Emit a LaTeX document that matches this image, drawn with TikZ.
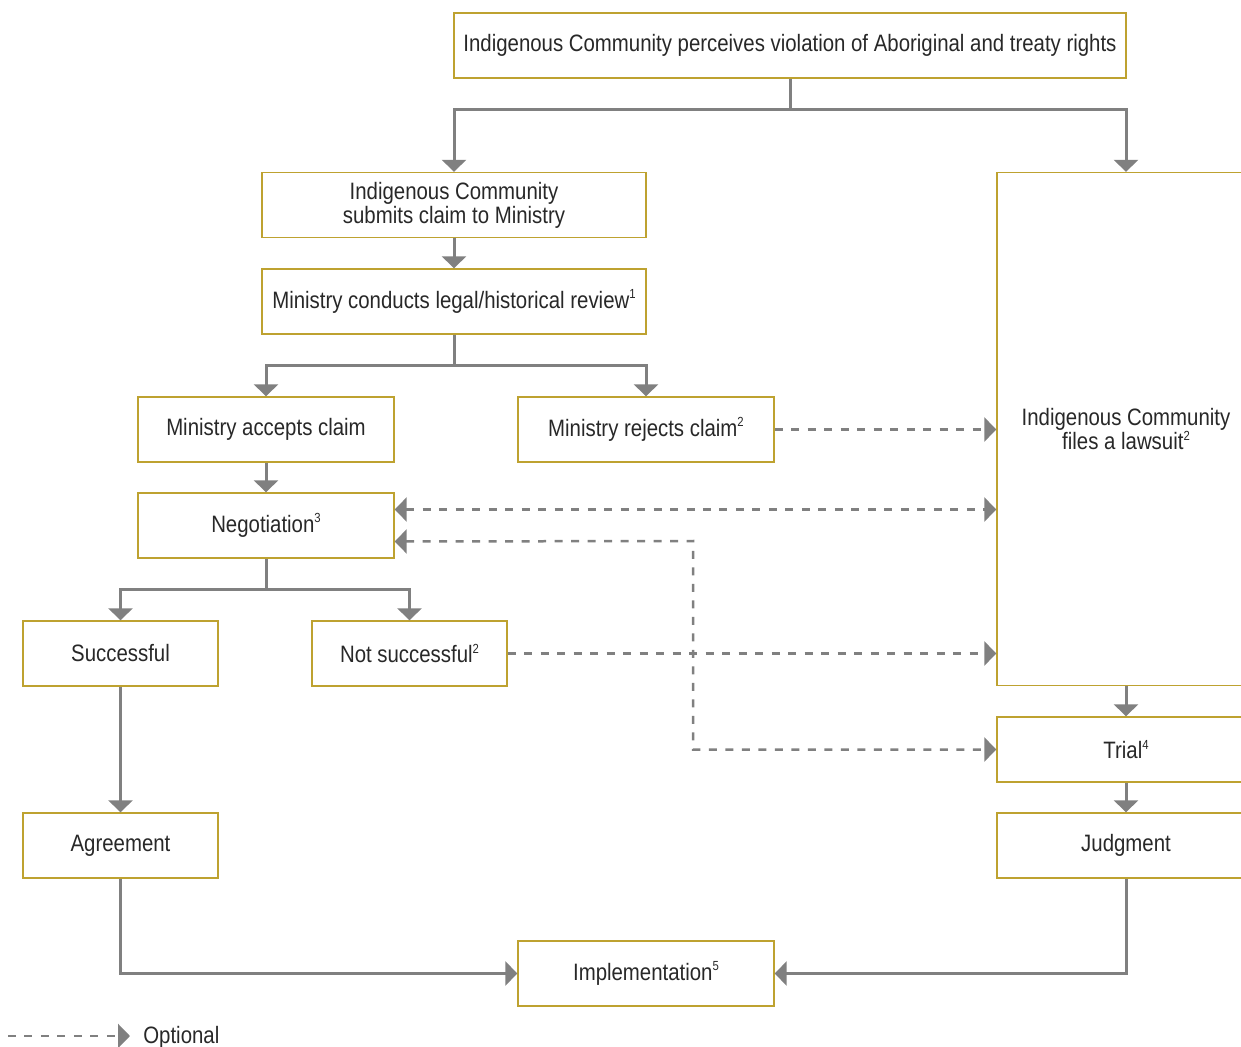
\documentclass[tikz,border=0pt]{standalone}
\usepackage{fontspec}
\setmainfont{Liberation Sans}[FakeStretch=0.86]
\usetikzlibrary{arrows.meta,positioning}
\definecolor{boxgold}{RGB}{190,162,48}
\definecolor{linegray}{RGB}{128,128,128}
\definecolor{txtgray}{RGB}{40,40,40}
\newcommand{\fnmark}[1]{\raisebox{0.75ex}{\fontsize{7.5}{8}\selectfont #1}}

\begin{document}
\begin{tikzpicture}[x=0.02cm,y=-0.02cm,
  >={Triangle[width=0.48cm,length=0.24cm]},
  box/.style={draw=boxgold,line width=0.8pt,fill=white,text=txtgray,align=center,
    minimum height=1.3cm,inner sep=0pt,font=\fontsize{13.5}{13.8}\selectfont},
  flow/.style={draw=linegray,line width=0.06cm,->},
  opt/.style={draw=linegray,line width=0.05cm,dash pattern=on 0.16cm off 0.17cm}]
  \useasboundingbox (0,0) rectangle (1241,1047);
  % boxes
  \node[box,minimum width=13.44cm] (top) at (790,45.5)
    {Indigenous Community perceives violation of Aboriginal and treaty rights};
  \node[box,minimum width=7.68cm] (submit) at (454,205)
    {Indigenous Community\\submits claim to Ministry};
  \node[box,minimum width=7.68cm] (review) at (454,301.5)
    {Ministry conducts legal/historical review\fnmark{1}};
  \node[box,minimum width=5.12cm] (accept) at (266,429.5) {Ministry accepts claim};
  \node[box,minimum width=5.12cm] (reject) at (646,429.5)
    {Ministry rejects claim\fnmark{2}};
  \node[box,minimum width=5.12cm] (negot) at (266,525.5) {Negotiation\fnmark{3}};
  \node[box,minimum width=3.9cm] (success) at (120.5,653.5) {Successful};
  \node[box,minimum width=3.9cm] (notsucc) at (409.5,653.5)
    {Not successful\fnmark{2}};
  \node[box,minimum width=3.9cm] (agree) at (120.5,845.5) {Agreement};
  \node[box,minimum width=5.16cm,minimum height=10.26cm] (lawsuit) at (1126,429)
    {Indigenous Community\\files a lawsuit\fnmark{2}};
  \node[box,minimum width=5.16cm] (trial) at (1126,749.5) {Trial\fnmark{4}};
  \node[box,minimum width=5.16cm] (judg) at (1126,845.5) {Judgment};
  \node[box,minimum width=5.12cm] (impl) at (646,973.5)
    {Implementation\fnmark{5}};
  % solid connectors
  \draw[flow] (top.south) -- ++(0,31) coordinate (tb) -| (submit.north);
  \draw[flow] (tb) -| (lawsuit.north);
  \draw[flow] (submit) -- (review);
  \draw[flow] (review.south) -- ++(0,31) coordinate (rb) -| (accept.north);
  \draw[flow] (rb) -| (reject.north);
  \draw[flow] (accept) -- (negot);
  \draw[flow] (negot.south) -- ++(0,31) coordinate (nb) -| (success.north);
  \draw[flow] (nb) -| (notsucc.north);
  \draw[flow] (success) -- (agree);
  \draw[flow] (lawsuit.south -| trial.north) -- (trial.north);
  \draw[flow] (trial) -- (judg);
  \draw[flow] (agree.south) |- (impl.west);
  \draw[flow] (judg.south) |- (impl.east);
  % optional connectors
  \coordinate (n1) at ([yshift=0.32cm]negot.east);
  \coordinate (n2) at ([yshift=-0.32cm]negot.east);
  \coordinate (bend) at (693,541);
  \draw[opt,->] (reject.east) -- (reject.east -| lawsuit.west);
  \draw[opt,<->] (n1) -- (n1 -| lawsuit.west);
  \draw[opt,<->] (n2) -- (bend) |- (trial.west);
  \draw[opt,->] (notsucc.east) -- (notsucc.east -| lawsuit.west);
  % legend
  \coordinate (leg) at (8,1036);
  \draw[opt,->] (leg) -- ++(122,0) coordinate (legend);
  \node[anchor=west,text=txtgray,font=\fontsize{13.5}{13.8}\selectfont,inner sep=0pt]
    (legtext) at (143,1037) {Optional};
\end{tikzpicture}
\end{document}
